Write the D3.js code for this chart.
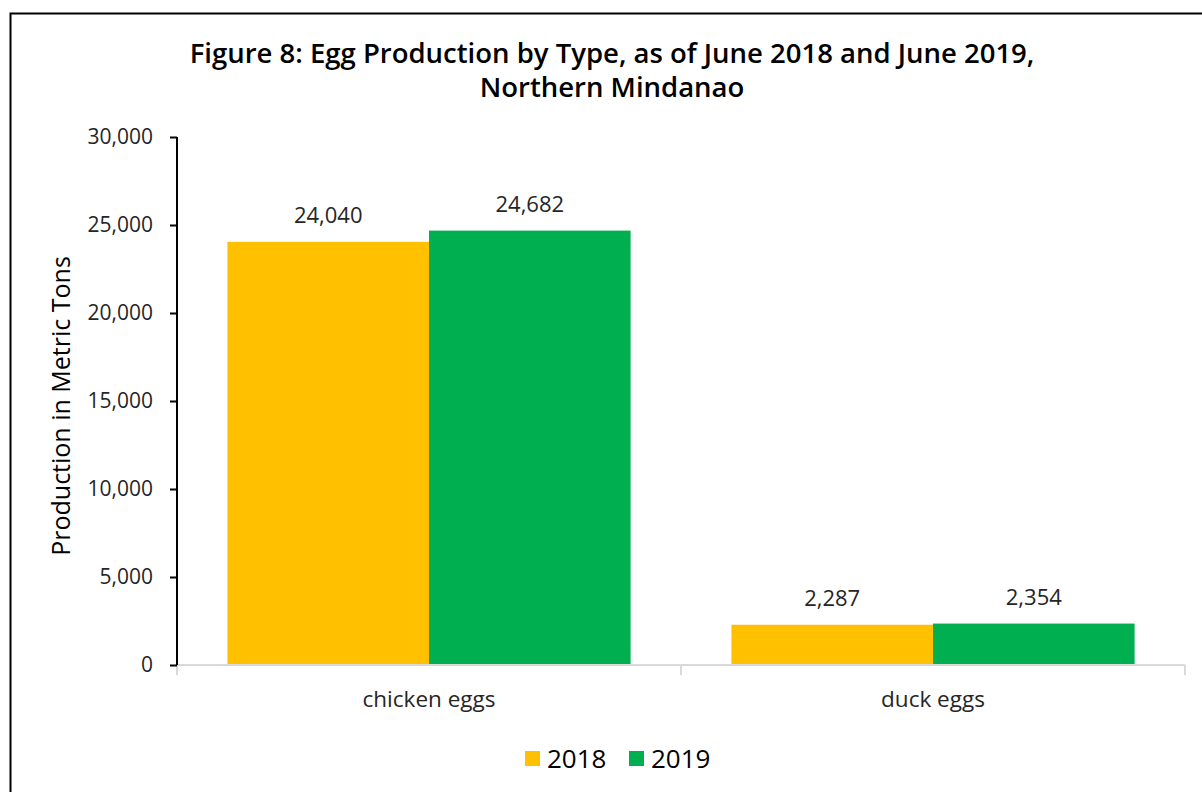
<!DOCTYPE html>
<html>
<head>
<meta charset="utf-8">
<script src="https://cdn.jsdelivr.net/npm/d3@7"></script>
<style>
  html, body { margin: 0; padding: 0; background: #fff; }
  svg { display: block; }
</style>
</head>
<body>
<script>
// Egg production (metric tons) by type, June 2018 vs June 2019
const categories = ["chicken eggs", "duck eggs"];
const years = ["2018", "2019"];
const values2018 = [24040, 2287];
const values2019 = [24682, 2354];
const yTicks = [0, 5000, 10000, 15000, 20000, 25000, 30000];
const titleLines = ["Figure 8: Egg Production by Type, as of June 2018 and June 2019,", "Northern Mindanao"];
const yTitle = "Production in Metric Tons";
const colors = ["#FFC000", "#00B050"];

const W = 1202, H = 792;
const FONT = "'Open Sans', 'Noto Sans', sans-serif";
const svg = d3.select("body").append("svg").attr("width", W).attr("height", H);

// chart frame
svg.append("rect").attr("x", 10.5).attr("y", 13.5).attr("width", W + 20).attr("height", H + 20)
  .attr("fill", "#fff").attr("stroke", "#000").attr("stroke-width", 2);

const plot = { left: 177, right: 1185, top: 137, bottom: 665 };

const x0 = d3.scaleBand().domain(categories).range([plot.left, plot.right]).paddingInner(0).paddingOuter(0);
const x1 = d3.scaleBand().domain(years).range([0, x0.bandwidth()]).paddingInner(0).paddingOuter(0.25);
const y = d3.scaleLinear().domain([0, 30000]).range([plot.bottom, plot.top]);

const series = [values2018, values2019];
const fmt = d3.format(",");

// title
svg.append("text").attr("text-anchor", "middle")
  .attr("font-family", FONT).attr("font-weight", 600)
  .attr("font-size", 27.5).attr("fill", "#000")
  .selectAll("tspan").data(titleLines).join("tspan")
  .attr("x", 612).attr("y", (d, i) => 63 + i * 34).text(d => d);

// bars
const groups = svg.append("g").selectAll("g").data(categories).join("g")
  .attr("transform", d => `translate(${x0(d)},0)`);
groups.selectAll("rect").data((c, ci) => years.map((yr, si) => ({ yr, v: series[si][ci], si })))
  .join("rect")
  .attr("x", d => x1(d.yr)).attr("width", x1.bandwidth())
  .attr("y", d => y(d.v)).attr("height", d => y(0) - y(d.v))
  .attr("fill", d => colors[d.si]);

// data labels
groups.selectAll("text").data((c, ci) => years.map((yr, si) => ({ yr, v: series[si][ci] })))
  .join("text")
  .attr("x", d => x1(d.yr) + x1.bandwidth() / 2).attr("y", d => y(d.v) - 19)
  .attr("text-anchor", "middle").attr("font-family", FONT)
  .attr("font-size", 22).attr("fill", "#262626").text(d => fmt(d.v));

// x axis
const xAxis = svg.append("g").attr("transform", `translate(0,${plot.bottom})`);
xAxis.append("line").attr("x1", plot.left).attr("x2", plot.right).attr("stroke", "#d9d9d9").attr("stroke-width", 2);
const xTickPos = categories.map(c => x0(c)).concat([x0(categories[categories.length - 1]) + x0.bandwidth()]);
xAxis.selectAll("line.tick").data(xTickPos).join("line").attr("class", "tick")
  .attr("x1", d => d).attr("x2", d => d).attr("y1", 0).attr("y2", 10)
  .attr("stroke", "#d9d9d9").attr("stroke-width", 2);
xAxis.selectAll("text").data(categories).join("text")
  .attr("x", d => x0(d) + x0.bandwidth() / 2).attr("y", 42)
  .attr("text-anchor", "middle").attr("font-family", FONT)
  .attr("font-size", 22.5).attr("fill", "#262626").text(d => d);

// y axis
const yAxis = svg.append("g").attr("transform", `translate(${plot.left},0)`)
  .call(d3.axisLeft(y).tickValues(yTicks).tickFormat(fmt).tickSize(7).tickPadding(17));
yAxis.select(".domain").attr("stroke", "#000").attr("stroke-width", 2).attr("d", `M0,${plot.top}V${plot.bottom}`);
yAxis.selectAll(".tick line").attr("stroke", "#000").attr("stroke-width", 2);
yAxis.selectAll(".tick text").attr("font-family", FONT)
  .attr("font-size", 21).attr("fill", "#262626");

svg.append("text").attr("transform", `translate(70,${(plot.top + plot.bottom) / 2 + 5}) rotate(-90)`)
  .attr("text-anchor", "middle").attr("font-family", FONT)
  .attr("font-size", 25).attr("fill", "#000").text(yTitle);

// legend
const legend = svg.append("g").attr("transform", "translate(525,751)");
const items = legend.selectAll("g").data(years).join("g")
  .attr("transform", (d, i) => `translate(${i * 104},0)`);
items.append("rect").attr("width", 15).attr("height", 15).attr("fill", (d, i) => colors[i]);
items.append("text").attr("x", 22).attr("y", 17).attr("font-family", FONT)
  .attr("font-size", 26).attr("fill", "#000").text(d => d);
</script>
</body>
</html>
